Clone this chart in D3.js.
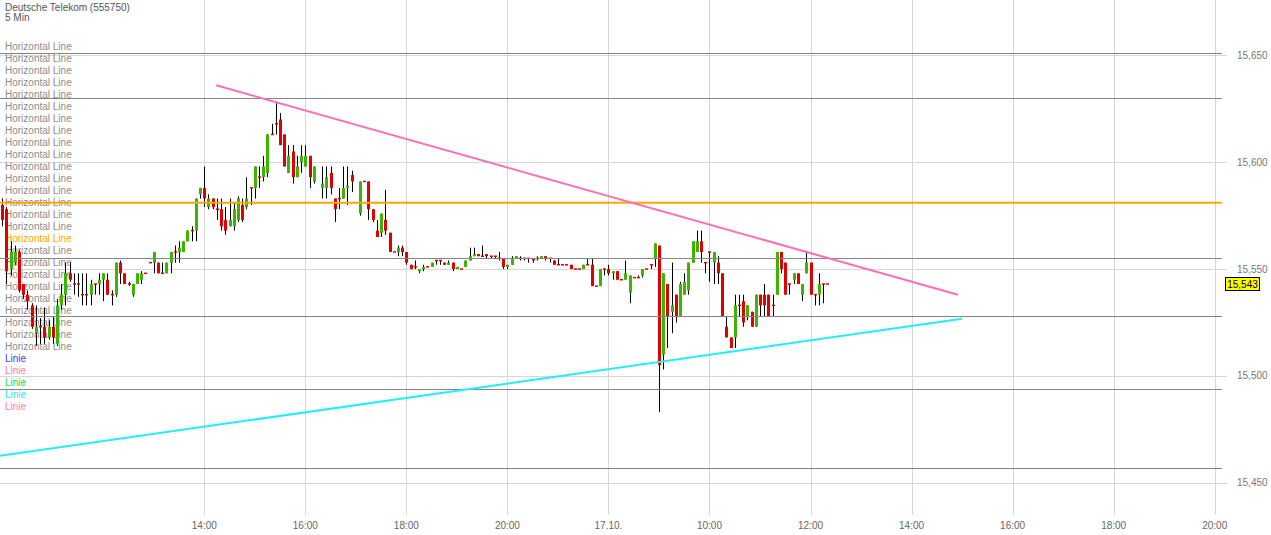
<!DOCTYPE html>
<html><head><meta charset="utf-8">
<script src="https://cdn.jsdelivr.net/npm/d3@7"></script>
<style>body{margin:0;background:#fff}svg{display:block}text{font-family:"Liberation Sans",Arial,sans-serif}</style>
</head><body><svg id="c" width="1271" height="535"></svg>
<script>
// 5-minute candles, index 0 = 16.10. 10:00, trading session 08:00-22:00 (index 144 = 17.10. 08:00)
const candles = [
[15.580,15.583,15.570,15.573],[15.578,15.579,15.543,15.549],[15.550,15.563,15.547,15.558],[15.553,15.561,15.552,15.558],
[15.558,15.559,15.539,15.540],[15.543,15.543,15.536,15.538],[15.538,15.540,15.531,15.535],[15.533,15.534,15.522,15.523],
[15.520,15.533,15.514,15.523],[15.523,15.527,15.515,15.523],[15.523,15.532,15.515,15.518],[15.518,15.526,15.517,15.523],
[15.523,15.528,15.515,15.518],[15.515,15.536,15.514,15.533],[15.533,15.543,15.531,15.538],[15.538,15.553,15.533,15.548],
[15.548,15.553,15.544,15.545],[15.543,15.548,15.538,15.543],[15.543,15.548,15.537,15.543],[15.538,15.548,15.533,15.538],
[15.538,15.548,15.533,15.538],[15.538,15.545,15.533,15.543],[15.543,15.543,15.538,15.543],[15.543,15.548,15.538,15.545],
[15.545,15.548,15.535,15.548],[15.545,15.548,15.538,15.538],[15.538,15.540,15.533,15.538],[15.538,15.553,15.537,15.553],
[15.553,15.554,15.543,15.548],[15.548,15.548,15.543,15.543],[15.543,15.544,15.542,15.543],[15.538,15.543,15.537,15.543],
[15.543,15.548,15.543,15.548],[15.545,15.549,15.543,15.548],[15.548,15.548,15.548,15.548],[15.553,15.553,15.553,15.553],
[15.553,15.558,15.548,15.558],[15.553,15.553,15.548,15.548],[15.548,15.553,15.548,15.548],[15.548,15.553,15.548,15.553],
[15.553,15.558,15.548,15.558],[15.558,15.561,15.553,15.558],[15.558,15.563,15.553,15.560],[15.558,15.563,15.558,15.563],
[15.563,15.568,15.563,15.568],[15.568,15.570,15.563,15.568],[15.568,15.583,15.563,15.583],[15.585,15.588,15.583,15.588],
[15.588,15.598,15.579,15.583],[15.579,15.585,15.578,15.583],[15.583,15.583,15.578,15.579],[15.578,15.583,15.573,15.578],
[15.578,15.583,15.568,15.570],[15.573,15.579,15.566,15.568],[15.570,15.583,15.570,15.573],[15.570,15.581,15.568,15.578],
[15.573,15.584,15.572,15.583],[15.580,15.583,15.572,15.573],[15.579,15.593,15.578,15.583],[15.588,15.588,15.580,15.588],
[15.588,15.598,15.583,15.598],[15.593,15.598,15.588,15.593],[15.593,15.603,15.591,15.598],[15.595,15.613,15.593,15.613],
[15.613,15.618,15.613,15.613],[15.618,15.628,15.613,15.618],[15.620,15.623,15.608,15.608],[15.613,15.613,15.598,15.598],
[15.595,15.608,15.595,15.603],[15.605,15.608,15.590,15.593],[15.593,15.603,15.593,15.598],[15.600,15.608,15.595,15.603],
[15.598,15.608,15.598,15.603],[15.603,15.603,15.588,15.593],[15.591,15.598,15.590,15.598],null,
[15.588,15.598,15.583,15.590],[15.588,15.598,15.583,15.593],[15.595,15.598,15.585,15.588],[15.583,15.583,15.572,15.578],
[15.583,15.588,15.578,15.583],[15.583,15.598,15.583,15.588],[15.588,15.598,15.580,15.589],[15.594,15.596,15.586,15.591],
null,[15.576,15.591,15.575,15.591],[15.591,15.591,15.591,15.591],[15.591,15.591,15.573,15.578],
[15.578,15.578,15.572,15.573],[15.568,15.573,15.565,15.565],[15.567,15.576,15.565,15.576],[15.573,15.587,15.566,15.568],
[15.567,15.567,15.558,15.558],[15.558,15.558,15.558,15.558],[15.558,15.561,15.556,15.560],[15.560,15.561,15.556,15.558],
[15.558,15.558,15.552,15.553],[15.552,15.552,15.550,15.550],[15.551,15.554,15.550,15.551],[15.549,15.550,15.548,15.550],
[15.550,15.552,15.549,15.551],[15.551,15.551,15.551,15.551],[15.551,15.553,15.551,15.553],[15.554,15.554,15.552,15.554],
[15.554,15.554,15.552,15.554],[15.553,15.553,15.552,15.552],[15.552,15.554,15.552,15.553],[15.553,15.553,15.549,15.550],
[15.550,15.551,15.550,15.551],[15.550,15.550,15.550,15.550],[15.551,15.554,15.551,15.554],[15.554,15.560,15.554,15.556],
[15.556,15.560,15.556,15.557],[15.557,15.557,15.556,15.556],[15.556,15.561,15.556,15.556],[15.557,15.557,15.555,15.556],
[15.556,15.556,15.555,15.556],[15.556,15.556,15.555,15.556],[15.555,15.558,15.554,15.555],[15.555,15.555,15.550,15.551],
[15.551,15.552,15.550,15.552],[15.552,15.556,15.552,15.555],[15.555,15.556,15.555,15.556],[15.555,15.556,15.554,15.555],
[15.555,15.555,15.554,15.555],[15.555,15.555,15.553,15.555],[15.555,15.555,15.553,15.554],[15.555,15.556,15.554,15.555],
[15.555,15.556,15.555,15.556],[15.556,15.556,15.554,15.555],[15.555,15.555,15.553,15.555],[15.554,15.554,15.552,15.552],
[15.552,15.555,15.552,15.552],[15.552,15.552,15.552,15.552],[15.552,15.552,15.552,15.552],[15.552,15.552,15.550,15.550],
[15.550,15.550,15.550,15.550],[15.550,15.550,15.550,15.550],[15.550,15.552,15.550,15.552],[15.552,15.555,15.552,15.552],
[15.552,15.555,15.542,15.542],[15.542,15.542,15.542,15.542],[15.542,15.550,15.542,15.550],[15.550,15.550,15.547,15.550],
[15.550,15.552,15.547,15.548],[15.548,15.549,15.545,15.549],[15.549,15.549,15.545,15.545],[15.545,15.545,15.545,15.545],
[15.545,15.554,15.545,15.548],[15.539,15.547,15.534,15.547],[15.546,15.546,15.546,15.546],[15.546,15.547,15.546,15.546],
[15.547,15.550,15.546,15.550],[15.550,15.550,15.550,15.550],[15.552,15.552,15.550,15.552],[15.555,15.562,15.551,15.562],
[15.561,15.561,15.483,15.505],[15.510,15.548,15.503,15.548],[15.543,15.543,15.513,15.528],[15.530,15.553,15.520,15.533],
[15.538,15.538,15.525,15.528],[15.528,15.544,15.528,15.543],[15.538,15.548,15.538,15.544],[15.540,15.553,15.538,15.553],
[15.553,15.563,15.553,15.563],[15.558,15.568,15.558,15.563],[15.563,15.568,15.553,15.558],[15.553,15.553,15.548,15.553],
[15.558,15.558,15.544,15.558],[15.553,15.558,15.543,15.558],[15.553,15.556,15.543,15.548],[15.548,15.548,15.528,15.528],
[15.523,15.528,15.518,15.518],[15.518,15.518,15.513,15.513],[15.518,15.538,15.513,15.533],[15.533,15.538,15.528,15.533],
[15.535,15.538,15.523,15.525],[15.528,15.533,15.526,15.533],[15.530,15.530,15.523,15.523],[15.523,15.538,15.523,15.538],
[15.538,15.538,15.528,15.533],[15.538,15.543,15.528,15.533],[15.538,15.538,15.528,15.528],[15.533,15.538,15.528,15.533],
[15.538,15.558,15.538,15.558],[15.558,15.558,15.548,15.550],[15.553,15.553,15.538,15.538],[15.543,15.543,15.538,15.543],
[15.545,15.548,15.543,15.548],[15.548,15.548,15.543,15.543],[15.538,15.543,15.535,15.543],[15.548,15.558,15.548,15.553],
[15.553,15.553,15.538,15.538],[15.538,15.538,15.533,15.538],[15.538,15.548,15.533,15.543],[15.543,15.543,15.534,15.543],
[15.543,15.543,15.543,15.543]
];
const xTickIndex = [48,72,96,120,144,168,192,216,240,264,288];
const xTickLabels = ["14:00","16:00","18:00","20:00","17.10.","10:00","12:00","14:00","16:00","18:00","20:00"];
const yTicks = [15.45,15.50,15.55,15.60,15.65];
const hLevels = [15.651,15.630,15.555,15.528,15.494,15.457];
const orangeLevel = 15.581;
const lastPrice = 15.543;
const resistanceLine = [[50.8,15.636],[227.0,15.538]];
const supportLine = [[-0.5,15.4626],[228.0,15.5267]];
const legendLabels = Array(26).fill("Horizontal Line").concat(["Linie","Linie","Linie","Linie","Linie"]);
const legendColors = Array(26).fill("#8c8c8c").map((c,i)=>i===16?"#ffa500":c)
  .concat(["#3a3aff","#ff7ab8","#22dd22","#22f0f0","#ff7ab8"]);

const svg = d3.select("#c");
const W=1271,H=535;
svg.append("rect").attr("width",W).attr("height",H).attr("fill","#fff");
const x = d3.scaleLinear().domain([0,288]).range([2.2,1214.7]);
const y = d3.scaleLinear().domain([15.45,15.65]).range([482.7,55.4]);
const fmt = d3.formatLocale({decimal:",",thousands:".",grouping:[3],currency:["","€"]}).format(".3f");
const px = v => Math.round(v)+0.5;

// grid
svg.append("g").selectAll("line").data(xTickIndex).join("line")
  .attr("x1",d=>px(x(d))).attr("x2",d=>px(x(d))).attr("y1",0).attr("y2",515)
  .attr("stroke","#d6d6d6").attr("stroke-width",1);
svg.append("g").selectAll("line").data(yTicks).join("line")
  .attr("x1",0).attr("x2",1227).attr("y1",d=>px(y(d))).attr("y2",d=>px(y(d)))
  .attr("stroke","#d6d6d6").attr("stroke-width",1);

// legend text
svg.append("g").selectAll("text").data(legendLabels).join("text")
  .attr("x",5).attr("y",(d,i)=>49.5+12*i).attr("font-size",10)
  .attr("fill",(d,i)=>legendColors[i]).text(d=>d);

// candles
const cd = candles.map((c,i)=>c?{i,o:c[0],h:c[1],l:c[2],c:c[3]}:null).filter(d=>d);
const gC = svg.append("g");
gC.selectAll("line").data(cd).join("line")
  .attr("x1",d=>px(x(d.i))).attr("x2",d=>px(x(d.i)))
  .attr("y1",d=>y(d.h)).attr("y2",d=>y(d.l)).attr("stroke","#000").attr("stroke-width",1);
gC.selectAll("rect").data(cd).join("rect")
  .attr("x",d=>Math.round(x(d.i))-1).attr("width",3)
  .attr("y",d=>{const t=y(Math.max(d.o,d.c)),b=y(Math.min(d.o,d.c));return b-t<1.5?(t+b)/2-0.75:t;})
  .attr("height",d=>Math.max(1.5,Math.abs(y(d.o)-y(d.c))))
  .attr("fill",d=>d.c>d.o?"#3cb400":"#e00000");

// horizontal lines
svg.append("g").selectAll("line").data(hLevels).join("line")
  .attr("x1",0).attr("x2",1222).attr("y1",d=>px(y(d))).attr("y2",d=>px(y(d)))
  .attr("stroke","#858585").attr("stroke-width",1.2);
svg.append("line").attr("x1",0).attr("x2",1222).attr("y1",y(orangeLevel)).attr("y2",y(orangeLevel))
  .attr("stroke","#ffa500").attr("stroke-width",2);

// trend lines
const ln = d3.line().x(d=>x(d[0])).y(d=>y(d[1]));
svg.append("path").attr("d",ln(resistanceLine)).attr("stroke","#ff6eb4").attr("stroke-width",2).attr("fill","none");
svg.append("path").attr("d",ln(supportLine)).attr("stroke","#22eef8").attr("stroke-width",2).attr("fill","none");

// title
svg.append("text").attr("x",5).attr("y",10.5).attr("font-size",10).attr("fill","#555").text("Deutsche Telekom (555750)");
svg.append("text").attr("x",5).attr("y",20.5).attr("font-size",10).attr("fill","#555").text("5 Min");

// y labels
svg.append("g").selectAll("text").data(yTicks).join("text")
  .attr("x",1237).attr("y",d=>y(d)+3.5).attr("font-size",10).attr("fill","#777").text(d=>fmt(d));
// x labels
svg.append("g").selectAll("text").data(xTickIndex).join("text")
  .attr("x",d=>x(d)).attr("y",529).attr("text-anchor","middle").attr("font-size",10).attr("fill","#666")
  .text((d,i)=>xTickLabels[i]);

// last price box
const ly = y(lastPrice);
svg.append("rect").attr("x",1225.5).attr("y",Math.round(ly)-6.5).attr("width",34).attr("height",13)
  .attr("fill","#ffff00").attr("stroke","#000").attr("stroke-width",1);
svg.append("text").attr("x",1242.5).attr("y",Math.round(ly)+3.5).attr("text-anchor","middle")
  .attr("font-size",10).attr("fill","#000").text(fmt(lastPrice));
</script></body></html>
